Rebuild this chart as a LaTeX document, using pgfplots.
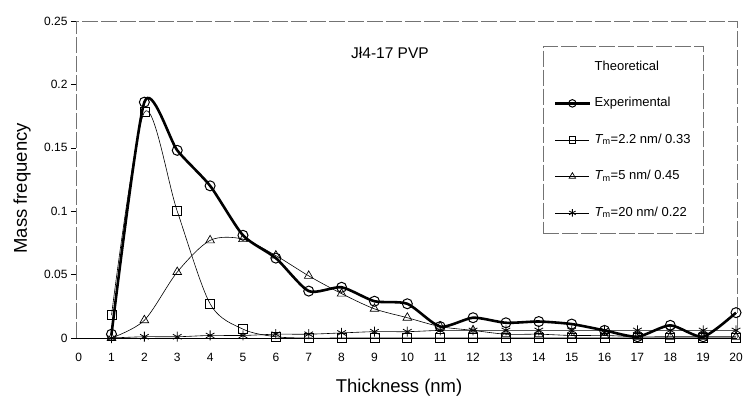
\documentclass[border=0pt]{standalone}
\usepackage{fontspec}
\setmainfont{Liberation Sans}
\usepackage{pgfplots}
\pgfplotsset{compat=1.18}

% frame and legend box: thin grey, long dashes
\tikzset{boxline/.style={draw=black!55, line width=0.6pt, dash pattern=on 16pt off 3pt}}

\begin{document}
\begin{tikzpicture}
\path[use as bounding box] (-76pt,-62pt) rectangle (668pt,338pt);
\begin{axis}[
  at={(0pt,0pt)}, anchor=south west,
  scale only axis, width=661pt, height=317pt,
  xmin=-0.08, xmax=20.03, ymin=0, ymax=0.25,
  clip=false,
  axis line style={draw=none},
  xtick={0,...,20}, xtick pos=bottom,
  major x tick style={draw=none},
  ytick={0,0.05,0.1,0.15,0.2,0.25},
  yticklabels={0,0.05,0.1,0.15,0.2,0.25},
  ytick pos=left, tick align=outside, major tick length=5pt,
  major y tick style={black, line width=0.6pt},
  /pgf/number format/assume math mode=true,
  tick label style={font=\fontsize{12}{14}\selectfont},
  xticklabel style={yshift=-7pt},
  legend cell align=left,
  legend image code/.code={%
    \draw[mark repeat=2, mark phase=2, every mark/.append style={scale=0.75}]
      plot coordinates {(0pt,0pt) (17pt,0pt) (34pt,0pt)};},
  legend style={
    at={(rel axis cs:0.828,0.625)}, anchor=center,
    boxline, fill=white,
    inner xsep=11pt, inner ysep=13pt,
    row sep=21pt, column sep=2pt,
    font=\fontsize{13}{15}\selectfont,
    nodes={inner sep=2pt, text height=9pt, text depth=2.5pt},
  },
]

% plot frame: dashed left, top and right sides, solid x axis
\draw[boxline] (rel axis cs:0,0) -- (rel axis cs:0,1) -- (rel axis cs:1,1) -- (rel axis cs:1,0);
\draw[black, line width=0.7pt] (rel axis cs:0,0) -- (rel axis cs:1,0);

\addlegendimage{empty legend}
\addlegendentry{Theoretical}

% measured distribution
\addplot[solid, black, line width=2.6pt, smooth, tension=0.4,
  mark=o, mark size=5pt, mark options={solid, fill=white, line width=1pt}]
  coordinates {
  (1,0.003) (2,0.186) (3,0.148) (4,0.120) (5,0.081)
  (6,0.063) (7,0.037) (8,0.040) (9,0.029) (10,0.027)
  (11,0.009) (12,0.016) (13,0.012) (14,0.013) (15,0.011)
  (16,0.006) (17,0.001) (18,0.010) (19,0.001) (20,0.020)};
\addlegendentry{Experimental}

% model components
\addplot[solid, black, line width=0.6pt, smooth,
  mark=square, mark size=4.5pt, mark options={solid, fill=white, line width=0.7pt}]
  coordinates {
  (1,0.018) (2,0.178) (3,0.100) (4,0.027) (5,0.007)
  (6,0.001) (7,0.000) (8,0.000) (9,0.000) (10,0.000)
  (11,0.000) (12,0.000) (13,0.000) (14,0.000) (15,0.000)
  (16,0.000) (17,0.000) (18,0.000) (19,0.000) (20,0.000)};
\addlegendentry{{\itshape T}\textsubscript{m}=2.2 nm/ 0.33}

\addplot[solid, black, line width=0.6pt, smooth,
  mark=triangle, mark size=5pt, mark options={solid, fill=white, line width=0.7pt}]
  coordinates {
  (1,0.000) (2,0.014) (3,0.052) (4,0.077) (5,0.078)
  (6,0.065) (7,0.049) (8,0.035) (9,0.023) (10,0.016)
  (11,0.009) (12,0.006) (13,0.003) (14,0.003) (15,0.002)
  (16,0.002) (17,0.001) (18,0.001) (19,0.001) (20,0.001)};
\addlegendentry{{\itshape T}\textsubscript{m}=5 nm/ 0.45}

\addplot[solid, black, line width=0.6pt, smooth,
  mark=asterisk, mark size=5pt, mark options={solid, line width=0.8pt}]
  coordinates {
  (1,0.000) (2,0.001) (3,0.001) (4,0.002) (5,0.002)
  (6,0.003) (7,0.003) (8,0.004) (9,0.005) (10,0.005)
  (11,0.006) (12,0.006) (13,0.006) (14,0.006) (15,0.006)
  (16,0.006) (17,0.006) (18,0.006) (19,0.006) (20,0.006)};
\addlegendentry{{\itshape T}\textsubscript{m}=20 nm/ 0.22}

\node[font=\fontsize{15.5}{18}\selectfont] at (rel axis cs:0.475,0.9) {Jł4-17 PVP};
\node[font=\fontsize{18.5}{22}\selectfont] at (axis cs:9.75,-0.0394) {Thickness (nm)};
\node[font=\fontsize{18.5}{22}\selectfont, rotate=90] at (axis cs:-1.72,0.118) {Mass frequency};
\end{axis}
\end{tikzpicture}
\end{document}
